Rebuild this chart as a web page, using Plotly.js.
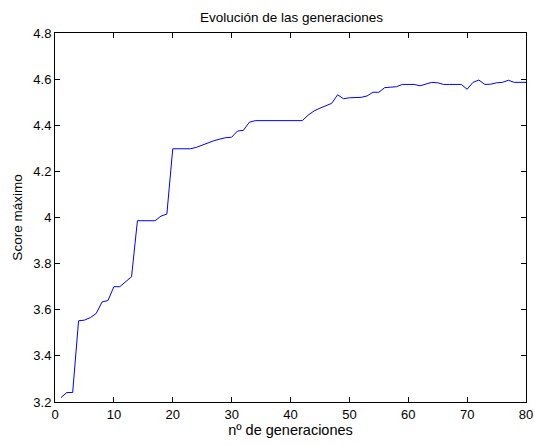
<!DOCTYPE html>
<html>
<head>
<meta charset="utf-8">
<script src="https://cdn.plot.ly/plotly-3.0.1.min.js"></script>
<style>html,body{margin:0;padding:0;background:#fff;}#chart{width:535px;height:446px;}</style>
</head>
<body>
<div id="chart"></div>
<script>
const generations = [];
for (let i = 1; i <= 80; i++) generations.push(i);
const maxScore = [
  3.219, 3.241, 3.241, 3.552, 3.555, 3.566, 3.584, 3.634, 3.640, 3.700,
  3.700, 3.720, 3.743, 3.986, 3.986, 3.986, 3.986, 4.006, 4.015, 4.298,
  4.298, 4.298, 4.298, 4.304, 4.314, 4.325, 4.333, 4.340, 4.346, 4.348,
  4.375, 4.378, 4.413, 4.420, 4.420, 4.420, 4.420, 4.420, 4.420, 4.420,
  4.420, 4.420, 4.444, 4.462, 4.474, 4.485, 4.495, 4.532, 4.515, 4.519,
  4.520, 4.521, 4.527, 4.543, 4.543, 4.563, 4.565, 4.567, 4.577, 4.577,
  4.577, 4.571, 4.578, 4.586, 4.584, 4.577, 4.577, 4.577, 4.577, 4.556,
  4.586, 4.596, 4.577, 4.578, 4.584, 4.586, 4.595, 4.586, 4.586, 4.586
];
const titleText = "Evolución de las generaciones";
const xLabel = "nº de generaciones";
const yLabel = "Score máximo";

const font = {family: "Liberation Sans, Arial, sans-serif", size: 12, color: "#000"};
const axisCommon = {
  showgrid: false, zeroline: false, showline: true, linecolor: "#000", linewidth: 1,
  mirror: "ticks", ticks: "inside", ticklen: 5, tickcolor: "#000", tickwidth: 1,
  tickfont: {family: font.family, size: 13, color: "#000"}
};
Plotly.newPlot("chart", [{
  x: generations, y: maxScore, type: "scatter", mode: "lines",
  line: {color: "#0000FF", width: 1}, hoverinfo: "skip"
}], {
  width: 535, height: 446,
  margin: {l: 55, r: 9, t: 33, b: 44},
  paper_bgcolor: "#fff", plot_bgcolor: "#fff",
  font: font,
  showlegend: false,
  title: {text: titleText, font: {family: font.family, size: 13.5, color: "#000"}, x: 0.545, xanchor: "center", y: 0.962, yanchor: "middle"},
  xaxis: Object.assign({}, axisCommon, {range: [0, 80], tick0: 0, dtick: 10,
    title: {text: xLabel, font: {family: font.family, size: 14.5, color: "#000"}, standoff: 1}}),
  yaxis: Object.assign({}, axisCommon, {range: [3.2, 4.8], tick0: 3.2, dtick: 0.2,
    title: {text: yLabel, font: {family: font.family, size: 13.5, color: "#000"}, standoff: 7}})
}, {staticPlot: true, displayModeBar: false});
</script>
</body>
</html>
